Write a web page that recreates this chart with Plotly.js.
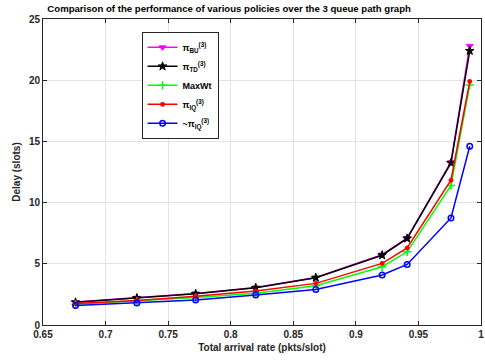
<!DOCTYPE html>
<html><head><meta charset="utf-8">
<script src="https://cdn.plot.ly/plotly-3.0.1.min.js"></script>
<style>html,body{margin:0;padding:0;background:#fff}#c{width:485px;height:362px}</style>
</head><body><div id="c"></div>
<script>
const rates = [0.676, 0.725, 0.772, 0.82, 0.868, 0.921, 0.941, 0.976, 0.991];
const bu    = [1.88, 2.22, 2.57, 3.06, 3.88, 5.75, 7.1, 13.3, 22.8];
const td    = [1.85, 2.2, 2.55, 3.04, 3.86, 5.7, 7.07, 13.24, 22.4];
const maxwt = [1.7, 1.95, 2.25, 2.6, 3.2, 4.76, 5.98, 11.4, 19.6];
const iq    = [1.75, 2.0, 2.35, 2.77, 3.4, 5.03, 6.3, 11.83, 19.9];
const iqt   = [1.6, 1.8, 2.04, 2.45, 2.9, 4.08, 4.95, 8.75, 14.6];
const names = ['<b>π<sub>BU</sub><sup>(3)</sup></b>', '<b>π<sub>TD</sub><sup>(3)</sup></b>', '<b>MaxWt</b>', '<b>π<sub>IQ</sub><sup>(3)</sup></b>', '<b>~π<sub>IQ</sub><sup>(3)</sup></b>'];
const xticks = [0.65, 0.7, 0.75, 0.8, 0.85, 0.9, 0.95, 1];
const xlabels = ['0.65', '0.7', '0.75', '0.8', '0.85', '0.9', '0.95', '1'];
const yticks = [0, 5, 10, 15, 20, 25];

const mk = (y, name, color, sym, size, lw) => ({
  x: rates, y: y, name: name, type: 'scatter', mode: 'lines+markers',
  line: {color: color, width: 1.5},
  marker: {symbol: sym, size: size, color: color, line: {color: color, width: lw}}
});

const data = [
  mk(bu, names[0], '#ff00ff', 'triangle-down', 6, 1),
  mk(td, names[1], '#000000', 'star', 6.5, 1),
  mk(maxwt, names[2], '#00ff00', 'cross-thin', 6, 1.5),
  mk(iq, names[3], '#ff0000', 'circle', 4, 1),
  mk(iqt, names[4], '#0000ff', 'circle-open', 5.5, 1.5)
];

const layout = {
  width: 485, height: 362,
  margin: {l: 43, r: 4, t: 19, b: 37},
  paper_bgcolor: '#fff', plot_bgcolor: '#fff',
  font: {family: 'Liberation Sans, Arial, sans-serif', size: 10, color: '#262626'},
  showlegend: true,
  title: {text: '<b>Comparison of the performance of various policies over the 3 queue path graph</b>',
          font: {family: 'Liberation Sans, Arial, sans-serif', size: 9.6, color: '#000'},
          x: 0.425, xref: 'paper', xanchor: 'center', y: 0.975, yref: 'container', yanchor: 'middle'},
  xaxis: {
    range: [0.65, 1], tickvals: xticks, ticktext: xlabels.map(s => '<b>' + s + '</b>'),
    ticks: 'inside', ticklen: 4, tickcolor: '#262626',
    showgrid: true, gridcolor: '#e3e3e3', gridwidth: 1,
    showline: true, linecolor: '#262626', linewidth: 1, mirror: 'ticks',
    zeroline: false,
    title: {text: '<b>Total arrival rate (pkts/slot)</b>', font: {size: 10, color: '#262626'}, standoff: 4}
  },
  yaxis: {
    range: [0, 25], tickvals: yticks, ticktext: yticks.map(v => '<b>' + v + '</b>'),
    ticks: 'inside', ticklen: 4, tickcolor: '#262626',
    showgrid: true, gridcolor: '#e3e3e3', gridwidth: 1,
    showline: true, linecolor: '#262626', linewidth: 1, mirror: 'ticks',
    zeroline: false,
    title: {text: '<b>Delay (slots)</b>', font: {size: 10, color: '#262626'}, standoff: 6}
  },
  legend: {
    x: 0.225, y: 0.958, xanchor: 'left', yanchor: 'top',
    bgcolor: '#fff', bordercolor: '#262626', borderwidth: 1,
    font: {family: 'Liberation Sans, Arial, sans-serif', size: 9, color: '#000'},
    tracegroupgap: 0, itemwidth: 30
  }
};
Plotly.newPlot('c', data, layout, {staticPlot: true, displayModeBar: false});
</script></body></html>
